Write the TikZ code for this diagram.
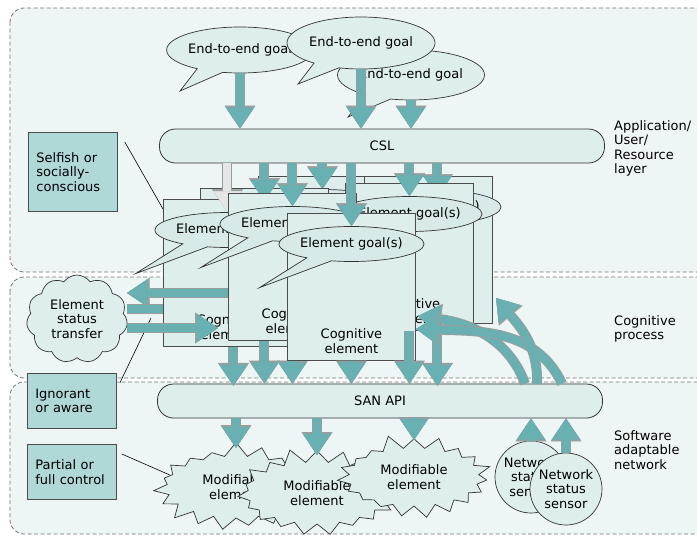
\documentclass[tikz,border=0pt]{standalone}
\usepackage{fontspec}
\setmainfont{DejaVu Sans}
\usetikzlibrary{arrows.meta,calc,shapes.callouts,shapes.symbols}

\definecolor{layerbg}{RGB}{238,246,245}
\definecolor{cogfill}{RGB}{222,238,237}
\definecolor{goalfill}{RGB}{215,233,233}
\definecolor{notefill}{RGB}{175,216,214}
\definecolor{arrteal}{RGB}{104,176,177}
\definecolor{arrline}{RGB}{150,158,158}
\definecolor{arrpale}{RGB}{230,230,230}

\tikzset{
  every node/.style={font=\fontsize{13}{14.5}\selectfont},
  layer/.style={draw=black!55, dash pattern=on 4pt off 2.5pt, line width=0.8pt, fill=layerbg, rounded corners=14pt},
  lbl/.style={anchor=north west, align=left, inner sep=0pt},
  bar/.style={draw=black!80, line width=0.8pt, fill=cogfill, rounded corners=16pt, minimum width=445pt, minimum height=34pt},
  note/.style={draw=black!70, line width=0.8pt, fill=notefill, anchor=north west, text width=73pt, align=left, inner xsep=8pt, minimum height=79pt},
  cogbox/.style={draw=black!70, line width=0.9pt, fill=cogfill, anchor=north west, minimum width=128pt, minimum height=147pt, inner sep=0pt},
  goal/.style={ellipse callout, draw=black!80, line width=0.7pt, fill=goalfill, minimum width=124pt, minimum height=35pt, inner sep=0pt, callout pointer arc=22, callout relative pointer={(-59,28)}},
  endgoal/.style={ellipse callout, draw=black!80, line width=0.7pt, fill=cogfill, inner sep=0pt, minimum width=140pt, minimum height=46pt, callout pointer arc=22},
  cogtext/.style={align=center},
  modif/.style={starburst, draw=black!80, line width=0.7pt, fill=cogfill, starburst points=19, starburst point height=15pt, minimum width=168pt, minimum height=92pt, inner sep=0pt, align=center},
  sensor/.style={circle, draw=black!80, line width=0.7pt, fill=cogfill, minimum size=72pt, inner sep=0pt, align=center},
  ptr/.style={draw=black, line width=0.6pt},
  blk/.style={draw=arrteal, line width=8pt, -{Triangle[width=28pt,length=21pt,line width=0.4pt]},
    preaction={draw=arrline, line width=10pt, -{Triangle[width=31pt,length=23pt,line width=0.4pt]}}},
  blkgray/.style={blk, draw=arrpale},
  blkbar/.style={draw=arrteal, line width=8pt, preaction={draw=arrline, line width=10pt}},
}

% one cognitive element: box, goal bubble and label
\newcommand{\cogel}[3]{%
  \node[cogbox] (ce#1) at (#2,#3) {};
  \node[goal] (goal#1) at ($(ce#1.north)+(0,31)$) {Element goal(s)};
  \node[cogtext] (txt#1) at ($(ce#1.north)+(0,128)$) {Cognitive\\element};
}

\begin{document}
\begin{tikzpicture}[x=1pt,y=-1pt]
\useasboundingbox (0,0) rectangle (697,536);

% layers
\draw[layer] (10,8) rectangle (712,272);
\draw[layer] (10,277) rectangle (712,378);
\draw[layer] (10,382) rectangle (712,534);
\node[lbl] (applbl) at (614,120) {Application/\\User/\\Resource\\layer};
\node[lbl] (coglbl) at (614,315) {Cognitive\\process};
\node[lbl] (sanlbl) at (614,430) {Software\\adaptable\\network};

% notes on the left
\node[note] (selfish) at (28,132) {Selfish or\\socially-\\conscious};
\node[note, minimum height=55pt] (ignorant) at (27,373) {Ignorant\\or aware};
\node[note, minimum height=55pt] (partial) at (27,444) {Partial or\\full control};

% software adaptable network
\node[bar] (san) at (380,401) {SAN API};
\node[modif, random starburst=7] (m1) at (236,487) {Modifiable\\element};
\node[modif, random starburst=11] (m2) at (317,493) {Modifiable\\element};
\node[modif, random starburst=5, minimum width=160pt, minimum height=88pt] (m3) at (414,477) {Modifiable\\element};
\draw[blk] (m1.center |- san.south) -- ($(m1.center)+(0,-39)$);
\draw[blk] (m2.center |- san.south) -- ($(m2.center)+(0,-38)$);
\draw[blk] (m3.center |- san.south) -- ($(m3.center)+(0,-37)$);
\node[sensor] (s1) at (531,477) {Network\\status\\sensor};
\node[sensor] (s2) at (566,489) {Network\\status\\sensor};
\draw[blk] (s1.north) -- (s1.north |- san.south);
\draw[blk] (s2.north) -- (s2.north |- san.south);

\coordinate (ignend) at (151,318);
\coordinate (stin) at (218,328);
\draw[ptr] ($(selfish.north east)+(7,10)$) -- (163,209);
\draw[ptr] ($(ignorant.north east)+(3,10)$) -- (ignend);
\draw[ptr] ($(partial.north east)+(5,10)$) -- ($(m1.west)+(9,-12)$);

\node[cloud, draw=black!80, line width=0.7pt, fill=cogfill, cloud puffs=11, cloud puff arc=110, aspect=1.1, minimum width=101pt, minimum height=88pt, inner sep=0pt, align=center] (cloud) at (77,319) {Element\\status\\transfer};

% end-to-end goals
\node[endgoal, callout absolute pointer={(180,91)}] (eg1) at (240,50) {End-to-end goal};
\node[endgoal, minimum width=147pt, minimum height=50pt, callout absolute pointer={(348,117)}] (eg3) at (411,75) {End-to-end goal};
\node[endgoal, minimum width=148pt, minimum height=52pt, callout absolute pointer={(298,84)}] (eg2) at (361,43) {End-to-end goal};
\node[bar] (csl) at (382,146) {CSL};
\draw[blk] (eg1.south) -- (eg1.south |- csl.north);
\draw[blk] (eg2.south) -- (eg2.south |- csl.north);
\draw[blk] (eg3.south) -- (eg3.south |- csl.north);

% cognitive elements, back to front
\cogel{G}{258}{176}
\cogel{E}{364}{176}
\draw[blk] (goalG.north |- csl.south) -- (goalG.north);
\draw[blk] ($(csl.south -| goalE.north)+(9,0)$) -- ($(goalE.north)+(9,8)$);
\cogel{F}{345}{183}
\draw[blk] (goalF.north |- csl.south) -- (goalF.north);
\cogel{B}{200}{188}
\draw[blk] (goalB.north |- csl.south) -- (goalB.north);
\cogel{A}{163}{199}
\draw[blkgray] (goalA.north |- csl.south) -- (goalA.north);
\draw[blk] ($(ceA.south)+(6,0)$) -- ($(ceA.south)+(6,39)$);
\draw[blk] (ceB.south) -- (ceB.south |- san.north);
\draw[blk] (ceA.east |- 0,293) -- (cloud.east |- 0,293);
\draw[blkbar] (cloud.east |- 0,309) -- (ceA.west |- 0,309);
\draw[blk] (cloud.east |- 0,328) -- (stin);
\cogel{C}{228}{193}
\draw[blk] (goalC.north |- csl.south) -- (goalC.north);
\draw[blk] (ceC.south) -- (ceC.south |- san.north);
\cogel{D}{287}{213}
\draw[blk] (goalD.north |- csl.south) -- (goalD.north);
\draw[blk] (ceD.south) -- (ceD.south |- san.north);
\draw[blk] (ceF.south) -- (ceF.south |- san.north);
\draw[blk] ($(ceE.south)+(9,0)$) -- ($(ceE.south)+(9,62)$);

% sensor feedback
\coordinate (fin1) at (418,316);
\coordinate (fin2) at (416,329);
\coordinate (fin3) at (496,298);
\draw[blk] ($(san.north -| s1.north)+(-6,0)$) to[out=110,in=-8] (fin1);
\draw[blk] ($(san.north -| s2.north)+(-4,0)$) to[out=115,in=-2] (fin2);
\draw[blk] ($(san.north -| s1.north)+(6,0)$) to[out=88,in=-50] (fin3);
\end{tikzpicture}
\end{document}
